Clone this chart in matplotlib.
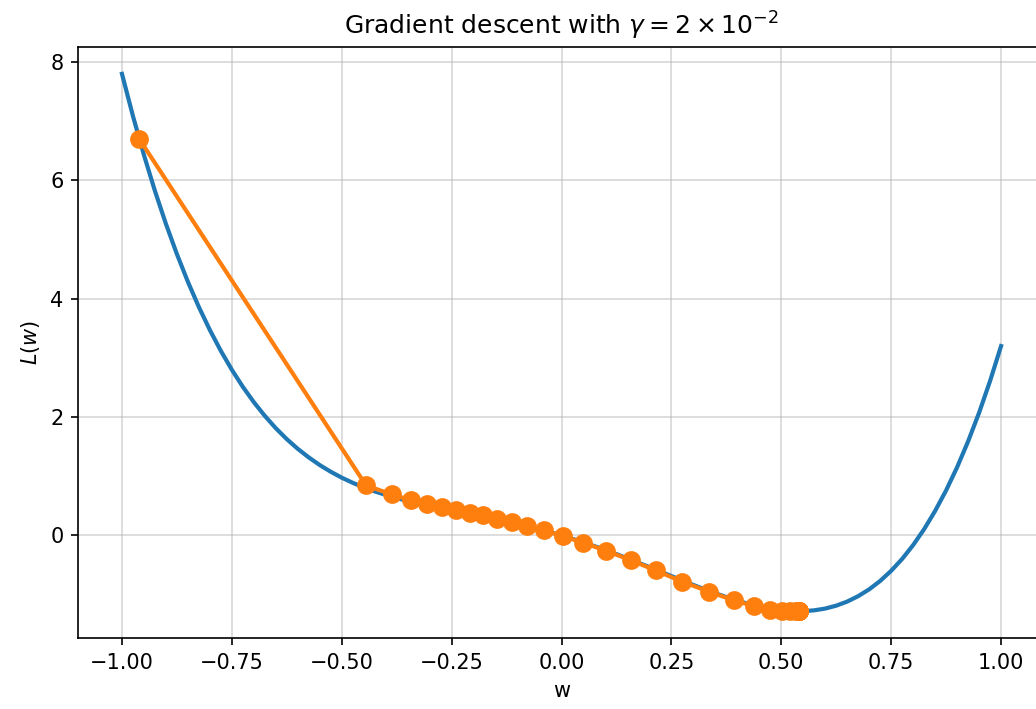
import matplotlib
matplotlib.use("Agg")
import matplotlib.pyplot as plt

# --- DATEN ---
# Verlustkurve L(w), abgetastet in Schritten von 0.025
w_curve = [i / 40 for i in range(-40, 41)]
L_curve = [
    7.800, 7.087, 6.429, 5.822, 5.265, 4.754, 4.286, 3.859, 3.471, 3.118,
    2.799, 2.511, 2.252, 2.020, 1.812, 1.627, 1.463, 1.318, 1.189, 1.076,
    0.976, 0.889, 0.812, 0.744, 0.685, 0.631, 0.584, 0.540, 0.500, 0.462,
    0.425, 0.390, 0.354, 0.317, 0.279, 0.239, 0.197, 0.152, 0.105, 0.054,
    0.000,
    -0.057, -0.118, -0.181, -0.247, -0.316, -0.388, -0.461, -0.536, -0.611,
    -0.687, -0.763, -0.837, -0.909, -0.977, -1.042, -1.102, -1.155, -1.201,
    -1.237, -1.264, -1.278, -1.280, -1.266, -1.236, -1.187, -1.118, -1.026,
    -0.911, -0.769, -0.598, -0.397, -0.163, 0.106, 0.414, 0.761, 1.152,
    1.589, 2.073, 2.610, 3.200,
]

# Iterationen des Gradientenverfahrens
w_steps = [
    -0.9606, -0.4448, -0.3864, -0.3431, -0.3053, -0.2712, -0.2400, -0.2082,
    -0.1779, -0.1461, -0.1126, -0.0778, -0.0398, 0.0027, 0.0496, 0.1013,
    0.1575, 0.2143, 0.2749, 0.3363, 0.3925, 0.4387, 0.4744, 0.5010, 0.5199,
    0.5336, 0.5372, 0.5388, 0.5394, 0.5397, 0.5398, 0.5398, 0.5398, 0.5398,
]
L_steps = [
    6.698, 0.846, 0.693, 0.597, 0.536, 0.485, 0.428, 0.384, 0.338, 0.282,
    0.232, 0.164, 0.085, -0.012, -0.123, -0.259, -0.418, -0.592, -0.783,
    -0.952, -1.099, -1.196, -1.252, -1.270, -1.277, -1.279, -1.280, -1.280,
    -1.280, -1.280, -1.280, -1.280, -1.280, -1.280,
]

fig = plt.figure(figsize=(1036 / 150, 709 / 150), dpi=150)
# Achse reicht rechts etwas über den Bildrand hinaus (wie im Original)
ax = fig.add_axes([0.0753, 0.1001, 0.9334, 0.8336])

ax.plot(w_curve, L_curve, color="C0", linewidth=2)
ax.plot(w_steps, L_steps, "o-", color="C1", linewidth=2, markersize=8)

ax.set_title(r"Gradient descent with $\gamma = 2 \times 10^{-2}$", fontsize=12)
ax.set_xlabel("w")
ax.set_ylabel(r"$L(w)$")
ax.grid(True, alpha=0.5)
ax.set_xticks([-1.0, -0.75, -0.5, -0.25, 0.0, 0.25, 0.5, 0.75, 1.0])

fig.savefig("out.png", dpi=150)
